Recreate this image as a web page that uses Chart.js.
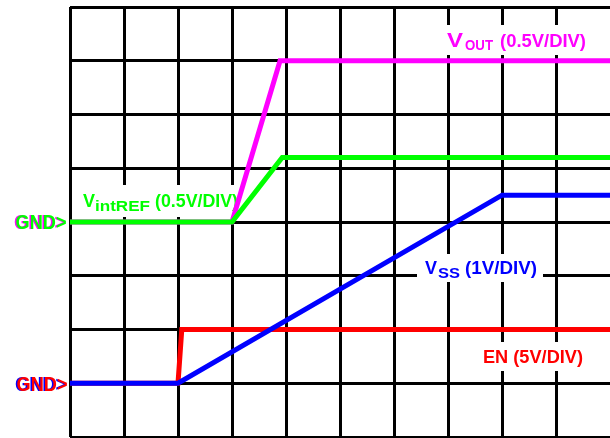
<!DOCTYPE html>
<html>
<head>
<meta charset="utf-8">
<script src="https://cdn.jsdelivr.net/npm/chart.js@4"></script>
<style>
  html, body { margin: 0; padding: 0; background: #fff; overflow: hidden; }
  #wrap { width: 610px; height: 438px; }
</style>
</head>
<body>
<div id="wrap"><canvas id="scope" width="610" height="438"></canvas></div>
<script>
// time in divisions (0..10), level in divisions (0..8)
const vOutX = [0, 3, 3.89, 10];
const vOutY = [4, 4, 7, 7];
const vRefX = [0, 3, 3.93, 10];
const vRefY = [4, 4, 5.2, 5.2];
const vssX = [0, 2, 8, 10];
const vssY = [1, 1, 4.5, 4.5];
const enX = [0, 2, 2.07, 10];
const enY = [1, 1, 2, 2];

const gndLevels = [4, 1];
const gndText = 'GND>';

const vOutText = ['V', 'OUT', '(0.5V/DIV)'];
const vRefText = ['V', 'intREF', '(0.5V/DIV)'];
const vssText = ['V', 'SS', '(1V/DIV)'];
const enText = ['EN (5V/DIV)'];

const FONT = '"Liberation Sans", Arial, sans-serif';

function pts(xs, ys) {
    return xs.map((x, i) => ({ x: x, y: ys[i] }));
}

// draw one piece of text squeezed/stretched to a given width
function part(c, text, x, y, size, w, color) {
    c.font = 'bold ' + size + 'px ' + FONT;
    const m = c.measureText(text).width;
    c.save();
    c.translate(x, y);
    c.scale(w / m, 1);
    c.fillStyle = color;
    c.textBaseline = 'alphabetic';
    c.fillText(text, 0, 0);
    c.restore();
}

const scopeLabels = {
    id: 'scopeLabels',
    beforeDatasetsDraw(chart) {
        const c = chart.ctx;
        c.save();

        // white patches behind the labels
        c.fillStyle = '#fff';
        c.fillRect(443, 25, 148, 30);
        c.fillRect(78, 185, 167, 32);
        c.fillRect(417, 254, 126, 28);
        c.fillRect(478, 342, 112, 29);

        const mag = '#ff00ff', grn = '#00ff00', blu = '#0000ff', red = '#ff0000';

        part(c, vOutText[0], 447, 47, 20, 16, mag);
        part(c, vOutText[1], 465, 50, 14, 28, mag);
        part(c, vOutText[2], 500, 47, 18, 86, mag);

        part(c, vRefText[0], 83, 207, 19, 12, grn);
        part(c, vRefText[1], 95, 211, 15, 55, grn);
        part(c, vRefText[2], 155, 207, 18, 83, grn);

        part(c, vssText[0], 425, 274, 19, 12, blu);
        part(c, vssText[1], 438, 278, 15, 22, blu);
        part(c, vssText[2], 465, 274, 18, 72, blu);

        part(c, enText[0], 483, 363, 18, 100, red);

        c.restore();
    },
    afterDraw(chart) {
        const c = chart.ctx;
        const y = chart.scales.y;
        const top = y.getPixelForValue(gndLevels[0]) + 7;
        const bot = y.getPixelForValue(gndLevels[1]) + 8;
        part(c, gndText, 14, top, 20, 51, '#ff00ff');
        part(c, gndText, 15.5, top, 20, 51, '#00ff00');
        part(c, gndText, 15, bot, 20, 51, '#0000ff');
        part(c, gndText, 16.5, bot, 20, 51, '#ff0000');
    }
};

function line(label, data, color, order) {
    return {
        label: label,
        data: data,
        borderColor: color,
        backgroundColor: color,
        borderWidth: 5,
        pointRadius: 0,
        tension: 0,
        fill: false,
        borderJoinStyle: 'miter',
        order: order
    };
}

window.onload = function() {

    const ctx = document.getElementById('scope');

    new Chart(ctx, {
        type: 'line',
        data: {
            datasets: [
                line('VSS', pts(vssX, vssY), '#0000ff', 0),
                line('EN', pts(enX, enY), '#ff0000', 1),
                line('VintREF', pts(vRefX, vRefY), '#00ff00', 2),
                line('VOUT', pts(vOutX, vOutY), '#ff00ff', 3)
            ]
        },
        options: {
            responsive: false,
            maintainAspectRatio: false,
            animation: false,
            devicePixelRatio: 1,
            layout: {
                padding: { left: 70, top: 7, right: 0, bottom: 1 }
            },
            plugins: {
                legend: { display: false },
                tooltip: { enabled: false }
            },
            scales: {
                x: {
                    type: 'linear',
                    min: 0,
                    max: 10,
                    ticks: { display: false, stepSize: 1 },
                    border: { display: false },
                    grid: {
                        drawTicks: false,
                        lineWidth: 3,
                        color: c => c.tick && c.tick.value === 10 ? 'rgba(0,0,0,0)' : '#000'
                    }
                },
                y: {
                    type: 'linear',
                    min: 0,
                    max: 8,
                    ticks: { display: false, stepSize: 1 },
                    border: { display: false },
                    grid: {
                        drawTicks: false,
                        lineWidth: 3,
                        color: '#000'
                    }
                }
            }
        },
        plugins: [scopeLabels]
    });
};
</script>
</body>
</html>
